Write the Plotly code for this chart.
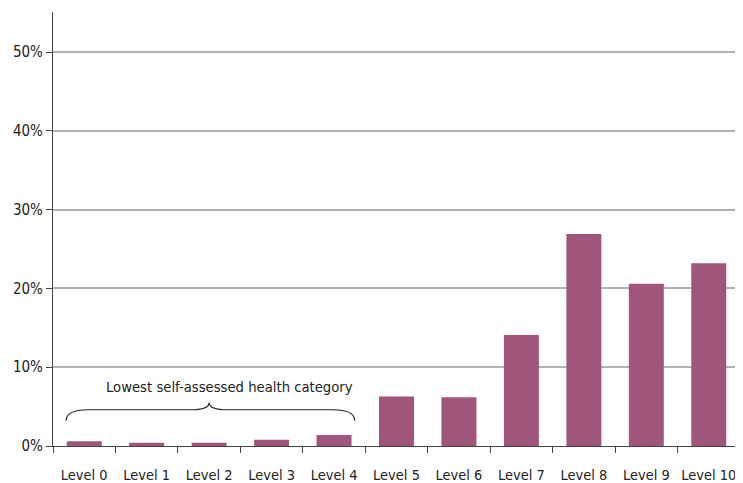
import plotly.graph_objects as go

categories = ["Level 0", "Level 1", "Level 2", "Level 3", "Level 4", "Level 5",
              "Level 6", "Level 7", "Level 8", "Level 9", "Level 10"]
values = [0.6, 0.4, 0.4, 0.8, 1.4, 6.3, 6.2, 14.1, 26.9, 20.6, 23.2]
y_ticks = [0, 10, 20, 30, 40, 50]
y_tick_labels = ["0%", "10%", "20%", "30%", "40%", "50%"]
bracket_label = "Lowest self-assessed health category"

FONT = "DejaVu Sans Condensed, Liberation Sans Narrow, Arial Narrow, sans-serif"

fig = go.Figure(go.Bar(x=list(range(len(categories))), y=values,
                       marker=dict(color="#A0557A", line=dict(width=0)),
                       width=0.56))

# brace over levels 0-4
x0, x1, xm = -0.29, 4.33, 2.0
ye, yh, yp = 3.2, 4.6, 5.5
path = (f"M {x0},{ye} Q {x0},{yh} {x0+0.35},{yh} L {xm-0.3},{yh} "
        f"Q {xm},{yh} {xm},{yp} Q {xm},{yh} {xm+0.3},{yh} "
        f"L {x1-0.35},{yh} Q {x1},{yh} {x1},{ye}")
fig.add_shape(type="path", path=path, xref="x", yref="y",
              line=dict(color="#222222", width=1.2))
fig.add_annotation(x=2.33, y=7.5, xref="x", yref="y", text=bracket_label,
                   showarrow=False, font=dict(family=FONT, size=14.7, color="#222222"))

# page body has an 8px default margin, so the figure is sized to fit inside it
fig.update_layout(
    width=735, height=475,
    margin=dict(l=45, r=3, t=4, b=37),
    plot_bgcolor="white", paper_bgcolor="white",
    showlegend=False,
    font=dict(family=FONT, size=15, color="#222222"),
)
fig.update_xaxes(
    tickvals=list(range(len(categories))), ticktext=categories,
    range=[-0.5, 10.5], showgrid=False, automargin=False,
    showline=True, linecolor="#444444", linewidth=1.2,
    ticks="", ticklabelstandoff=15, tickfont=dict(size=14.5),
    minor=dict(tickvals=[i - 0.5 for i in range(len(categories) + 1)],
               ticks="outside", ticklen=6, tickcolor="#444444", tickwidth=1.2),
    fixedrange=True,
)
fig.update_yaxes(
    range=[0, 55.1], tickvals=y_ticks, ticktext=y_tick_labels, automargin=False,
    showgrid=True, gridcolor="#B0B0B8", gridwidth=1.5,
    showline=True, linecolor="#444444", linewidth=1.2,
    ticks="outside", ticklen=6, tickcolor="#444444",
    zeroline=False, fixedrange=True,
)

fig.write_html("out.html")
